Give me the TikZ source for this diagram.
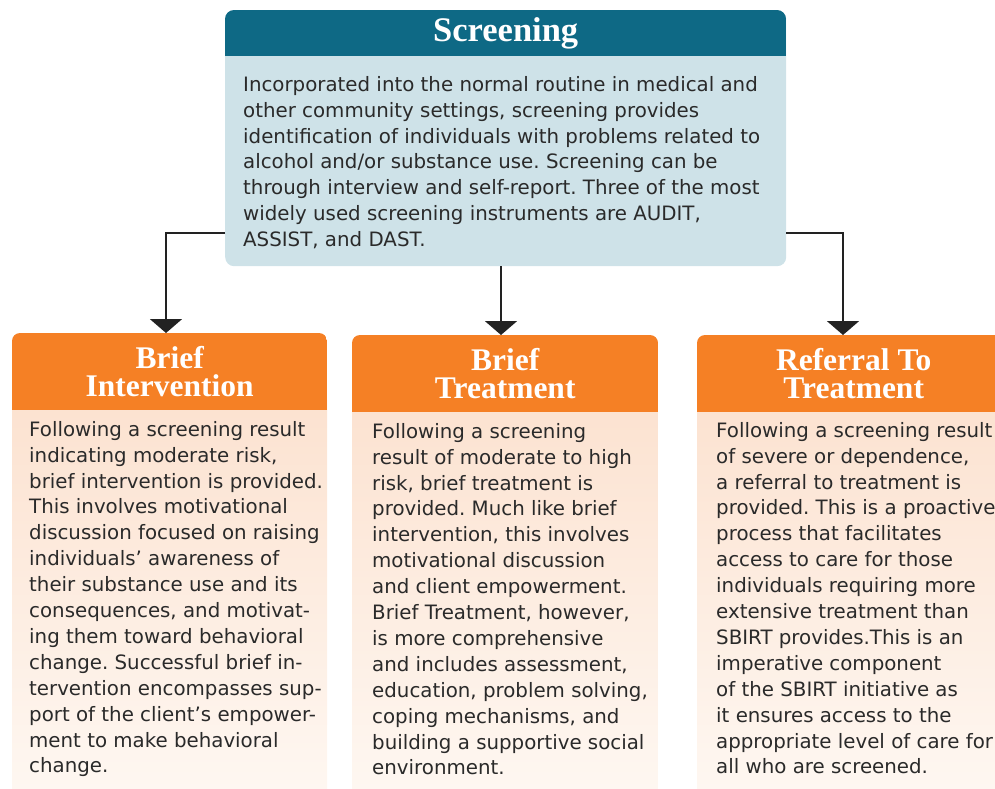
\documentclass[tikz,border=0pt]{standalone}
\usepackage{fontspec}
\setmainfont{DejaVu Sans}
\newfontfamily\titlefont{Liberation Serif}
\usetikzlibrary{arrows.meta}
\definecolor{scrHead}{HTML}{0E6985}
\definecolor{scrBody}{HTML}{CEE2E8}
\definecolor{orng}{HTML}{F58025}
\definecolor{peachTop}{HTML}{FCE2D0}
\definecolor{peachBot}{HTML}{FEF7F1}
\definecolor{txt}{HTML}{2A2A2A}
\definecolor{conn}{HTML}{222222}
\tikzset{
  bodytext/.style={anchor=north west, inner sep=0pt, align=left, text=txt,
    font=\frenchspacing\fontsize{19.8}{25.9}\selectfont},
  headbox/.style={anchor=north west, inner sep=0pt, text=white, align=center},
  orangehead/.style={headbox, fill=orng, minimum height=77pt,
    font=\titlefont\bfseries\fontsize{31.5}{28}\selectfont},
  connector/.style={draw=conn, line width=2.2pt, -{Triangle[width=32pt,length=14pt]}},
}
\begin{document}
\begin{tikzpicture}[x=1pt,y=-1pt]
\useasboundingbox (0,0) rectangle (995,789);
\clip (0,0) rectangle (995,789);

% Screening box
\node[anchor=north west, inner sep=0pt, fill=scrBody, rounded corners=9pt,
  minimum width=561pt, minimum height=256pt] (scr) at (225,10) {};
\begin{scope}
\clip[rounded corners=9pt] (225,10) rectangle (786,266);
\node[headbox, fill=scrHead, minimum width=561pt, minimum height=46pt,
  font=\titlefont\bfseries\fontsize{34.5}{34}\selectfont] (scrh) at (225,10) {Screening};
\end{scope}
\node[bodytext] (scrt) at (243,76) {\rule{0pt}{15pt}Incorporated into the normal routine in medical and\\
other community settings, screening provides\\
identification of individuals with problems related to\\
alcohol and/or substance use. Screening can be\\
through interview and self-report. Three of the most\\
widely used screening instruments are AUDIT,\\
ASSIST, and DAST.};

% Brief Intervention
\begin{scope}
\clip[rounded corners=8pt] (12,333) rectangle (327,810);
\shade[top color=peachTop, bottom color=peachBot] (12,400) rectangle (327,789);
\node[orangehead, minimum width=315pt] (bih) at (12,333) {Brief\\Intervention};
\end{scope}
\node[bodytext] (bit) at (29,421) {\rule{0pt}{15pt}Following a screening result\\
indicating moderate risk,\\
brief intervention is provided.\\
This involves motivational\\
discussion focused on raising\\
individuals’ awareness of\\
their substance use and its\\
consequences, and motivat-\\
ing them toward behavioral\\
change. Successful brief in-\\
tervention encompasses sup-\\
port of the client’s empower-\\
ment to make behavioral\\
change.};

% Brief Treatment
\begin{scope}
\clip[rounded corners=8pt] (352,335) rectangle (658,810);
\shade[top color=peachTop, bottom color=peachBot] (352,400) rectangle (658,789);
\node[orangehead, minimum width=306pt] (bth) at (352,335) {Brief\\Treatment};
\end{scope}
\node[bodytext] (btt) at (372,423) {\rule{0pt}{15pt}Following a screening\\
result of moderate to high\\
risk, brief treatment is\\
provided. Much like brief\\
intervention, this involves\\
motivational discussion\\
and client empowerment.\\
Brief Treatment, however,\\
is more comprehensive\\
and includes assessment,\\
education, problem solving,\\
coping mechanisms, and\\
building a supportive social\\
environment.};

% Referral To Treatment
\begin{scope}
\clip[rounded corners=8pt] (697,335) rectangle (1010,810);
\shade[top color=peachTop, bottom color=peachBot] (697,400) rectangle (995,789);
\node[orangehead, minimum width=313pt] (rth) at (697,335) {Referral To\\Treatment};
\end{scope}
\node[bodytext] (rtt) at (716,422) {\rule{0pt}{15pt}Following a screening result\\
of severe or dependence,\\
a referral to treatment is\\
provided. This is a proactive\\
process that facilitates\\
access to care for those\\
individuals requiring more\\
extensive treatment than\\
SBIRT provides.This is an\\
imperative component\\
of the SBIRT initiative as\\
it ensures access to the\\
appropriate level of care for\\
all who are screened.};

% Connectors
\coordinate (j1) at (166,233);
\coordinate (j2) at (501,266);
\coordinate (j3) at (843,233);
\draw[connector] (j1 -| scr.west) -- (j1) -- (j1 |- bih.north);
\draw[connector] (j2 |- scr.south) -- (j2 |- bth.north);
\draw[connector] (j3 -| scr.east) -- (j3) -- (j3 |- rth.north);
\end{tikzpicture}
\end{document}
